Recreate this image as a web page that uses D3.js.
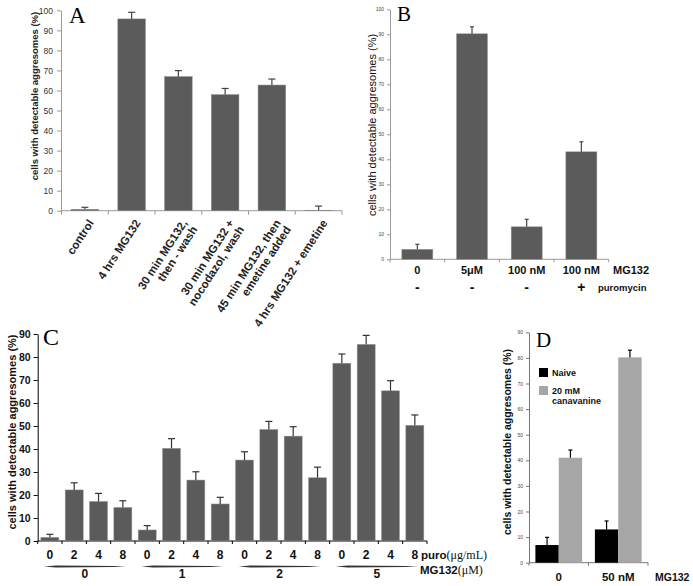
<!DOCTYPE html>
<html><head><meta charset="utf-8">
<script src="https://cdn.jsdelivr.net/npm/d3@7"></script>
<style>
body{margin:0;background:#fff}
svg{display:block}
text{font-family:"Liberation Sans",Arial,sans-serif}
.serif{font-family:"Liberation Serif","Times New Roman",serif}
</style>
</head><body>
<svg id="chart" width="693" height="586"></svg>
<script>
// ---------- Panel A ----------
const aCategories = ["control", "4 hrs MG132", "30 min MG132,\nthen - wash", "30 min MG132 +\nnocodazol, wash", "45 min MG132, then\nemetine added", "4 hrs MG132 + emetine"];
const aValues = [0.7, 95.7, 66.9, 57.9, 62.7, 0.2];
const aErrors = [1.0, 3.3, 3.0, 3.1, 3.0, 2.1];
const aTicks = [0, 10, 20, 30, 40, 50, 60, 70, 80, 90, 100];

// ---------- Panel B ----------
const bMG132 = ["0", "5\u03bcM", "100 nM", "100 nM"];
const bPuromycin = ["-", "-", "-", "+"];
const bValues = [4, 90.2, 13, 43];
const bErrors = [2, 2.8, 3, 4];
const bTicks = [0, 10, 20, 30, 40, 50, 60, 70, 80, 90, 100];

// ---------- Panel C ----------
const cMG132 = ["0", "1", "2", "5"];
const cPuro = ["0", "2", "4", "8"];
const cValues = [1.6, 22.2, 17.2, 14.6, 4.8, 40.3, 26.5, 16.1, 35.2, 48.5, 45.6, 27.5, 77.3, 85.5, 65.3, 50.3];
const cErrors = [1.3, 3.1, 3.5, 2.9, 1.9, 4.2, 3.6, 2.9, 3.6, 3.5, 4.1, 4.6, 4.0, 3.9, 4.4, 4.5];
const cTicks = [0, 10, 20, 30, 40, 50, 60, 70, 80, 90];

// ---------- Panel D ----------
const dCategories = ["0", "50 nM"];
const dSeries = ["Naive", "20 mM\ncanavanine"];
const dNaive = [6.9, 13];
const dCanavanine = [41, 80.2];
const dNaiveErr = [3, 3.3];
const dCanavanineErr = [3, 2.8];
const dTicks = [0, 10, 20, 30, 40, 50, 60, 70, 80, 90];

const svg = d3.select("#chart");
svg.append("rect").attr("width", 693).attr("height", 586).attr("fill", "#fff");
const barColor = "#5b5b5b";

function errorBars(g, xs, tops, errTops, col, cap) {
  xs.forEach((x, i) => {
    g.append("line").attr("x1", x).attr("x2", x).attr("y1", tops[i]).attr("y2", errTops[i])
      .attr("stroke", col).attr("stroke-width", 1.2);
    g.append("line").attr("x1", x - cap).attr("x2", x + cap).attr("y1", errTops[i]).attr("y2", errTops[i])
      .attr("stroke", col).attr("stroke-width", 1.2);
  });
}

// ================= Panel A =================
{
  const g = svg.append("g");
  const y = d3.scaleLinear().domain([0, 100]).range([210.7, 10.3]);
  const x = d3.scaleBand().domain(d3.range(aCategories.length)).range([61.5, 342]).paddingInner(0.41).paddingOuter(0.205);
  const ax = g.append("g").attr("transform", "translate(61,0)")
    .call(d3.axisLeft(y).tickValues(aTicks).tickSize(4).tickSizeOuter(0).tickPadding(4));
  ax.select(".domain").attr("stroke", "#999");
  ax.selectAll(".tick line").attr("stroke", "#999");
  ax.selectAll(".tick text").attr("font-size", 8.5).attr("fill", "#333").attr("font-family", "Liberation Sans, Arial, sans-serif");
  g.append("line").attr("x1", 61).attr("x2", 342).attr("y1", y(0)).attr("y2", y(0)).attr("stroke", "#999");
  const step = x.step();
  d3.range(aCategories.length + 1).forEach(i => {
    const bx = 61.5 + i * step;
    g.append("line").attr("x1", bx).attr("x2", bx).attr("y1", y(0)).attr("y2", y(0) + 4).attr("stroke", "#999");
  });
  g.selectAll("rect.bar").data(aValues).join("rect")
    .attr("x", (d, i) => x(i)).attr("width", x.bandwidth())
    .attr("y", d => y(d)).attr("height", d => y(0) - y(d))
    .attr("fill", barColor).attr("stroke", "#888").attr("stroke-width", 0.5);
  errorBars(g, aValues.map((d, i) => x(i) + x.bandwidth() / 2), aValues.map(d => y(d)),
    aValues.map((d, i) => y(d + aErrors[i])), "#444", 3.5);
  aCategories.forEach((c, i) => {
    const cx = x(i) + x.bandwidth() / 2 + 6;
    const t = g.append("text").attr("transform", `translate(${cx},${y(0) + 10}) rotate(-57)`)
      .attr("text-anchor", "end").attr("font-size", 11.5).attr("font-weight", "bold").attr("fill", "#222");
    c.split("\n").forEach((line, j) => {
      t.append("tspan").attr("x", 0).attr("dy", j === 0 ? "0.35em" : "1.05em").text(line);
    });
  });
  g.append("text").attr("transform", `translate(38,${(10 + 182) / 2}) rotate(-90)`)
    .attr("text-anchor", "middle").attr("font-size", 9.5).attr("font-weight", "bold").attr("fill", "#222")
    .text("cells with detectable aggresomes (%)");
  g.append("text").attr("class", "serif").attr("x", 69).attr("y", 23).attr("font-size", 23).attr("fill", "#000").text("A");
}

// ================= Panel B =================
{
  const g = svg.append("g");
  const y = d3.scaleLinear().domain([0, 100]).range([259.3, 9.3]);
  const x = d3.scaleBand().domain(d3.range(bValues.length)).range([390, 608.7]).paddingInner(0.433).paddingOuter(0.2165);
  const ax = g.append("g").attr("transform", "translate(390,0)")
    .call(d3.axisLeft(y).tickValues(bTicks).tickSize(3).tickSizeOuter(0).tickPadding(3));
  ax.select(".domain").attr("stroke", "#999");
  ax.selectAll(".tick line").attr("stroke", "#999");
  ax.selectAll(".tick text").attr("font-size", 5).attr("fill", "#444").attr("font-family", "Liberation Sans, Arial, sans-serif");
  g.append("line").attr("x1", 390).attr("x2", 608.7).attr("y1", y(0)).attr("y2", y(0)).attr("stroke", "#999");
  d3.range(bValues.length + 1).forEach(i => {
    const bx = 390 + i * x.step();
    g.append("line").attr("x1", bx).attr("x2", bx).attr("y1", y(0)).attr("y2", y(0) + 3).attr("stroke", "#999");
  });
  g.selectAll("rect.bar").data(bValues).join("rect")
    .attr("x", (d, i) => x(i)).attr("width", x.bandwidth())
    .attr("y", d => y(d)).attr("height", d => y(0) - y(d))
    .attr("fill", barColor).attr("stroke", "#999").attr("stroke-width", 0.5);
  errorBars(g, bValues.map((d, i) => x(i) + x.bandwidth() / 2), bValues.map(d => y(d)),
    bValues.map((d, i) => y(d + bErrors[i])), "#444", 2);
  bMG132.forEach((c, i) => {
    g.append("text").attr("x", x(i) + x.bandwidth() / 2).attr("y", 274).attr("text-anchor", "middle")
      .attr("font-size", 11).attr("font-weight", "bold").attr("fill", "#111").text(c);
    g.append("text").attr("x", x(i) + x.bandwidth() / 2).attr("y", 292).attr("text-anchor", "middle")
      .attr("font-size", 14).attr("font-weight", "bold").attr("fill", "#111").text(bPuromycin[i]);
  });
  g.append("text").attr("x", 613).attr("y", 274).attr("font-size", 11).attr("font-weight", "bold").attr("fill", "#111").text("MG132");
  g.append("text").attr("x", 598).attr("y", 291).attr("font-size", 9.5).attr("font-weight", "bold").attr("fill", "#111").text("puromycin");
  g.append("text").attr("transform", `translate(376,125) rotate(-90)`)
    .attr("text-anchor", "middle").attr("font-size", 11).attr("fill", "#111")
    .text("cells with detectable aggresomes (%)");
  g.append("text").attr("class", "serif").attr("x", 397).attr("y", 21).attr("font-size", 21).attr("fill", "#000").text("B");
}

// ================= Panel C =================
{
  const g = svg.append("g");
  const y = d3.scaleLinear().domain([0, 90]).range([541, 334]);
  const x = d3.scaleBand().domain(d3.range(cValues.length)).range([37.7, 427]).paddingInner(0.26).paddingOuter(0.13);
  const ax = g.append("g").attr("transform", "translate(37.7,0)")
    .call(d3.axisLeft(y).tickValues(cTicks).tickSize(4).tickSizeOuter(0).tickPadding(3));
  ax.select(".domain").attr("stroke", "#000");
  ax.selectAll(".tick line").attr("stroke", "#000");
  ax.selectAll(".tick text").attr("font-size", 10.5).attr("font-weight", "bold").attr("fill", "#111").attr("font-family", "Liberation Sans, Arial, sans-serif");
  g.append("line").attr("x1", 37.7).attr("x2", 427).attr("y1", y(0)).attr("y2", y(0)).attr("stroke", "#000");
  d3.range(cValues.length + 1).forEach(i => {
    const bx = 37.7 + i * x.step();
    g.append("line").attr("x1", bx).attr("x2", bx).attr("y1", y(0)).attr("y2", y(0) + 3).attr("stroke", "#000");
  });
  g.selectAll("rect.bar").data(cValues).join("rect")
    .attr("x", (d, i) => x(i)).attr("width", x.bandwidth())
    .attr("y", d => y(d)).attr("height", d => y(0) - y(d))
    .attr("fill", barColor).attr("stroke", "#999").attr("stroke-width", 0.5);
  errorBars(g, cValues.map((d, i) => x(i) + x.bandwidth() / 2), cValues.map(d => y(d)),
    cValues.map((d, i) => y(d + cErrors[i])), "#333", 3.5);
  cValues.forEach((d, i) => {
    g.append("text").attr("x", x(i) + x.bandwidth() / 2).attr("y", 559).attr("text-anchor", "middle")
      .attr("font-size", 12).attr("font-weight", "bold").attr("fill", "#111").text(cPuro[i % cPuro.length]);
  });
  cMG132.forEach((m, k) => {
    const x1 = x(k * 4) + 3, x2 = x(k * 4 + 3) + x.bandwidth() - 6;
    const yy = 566.5;
    g.append("path").attr("d", `M${x1},${yy} L${x1 + 12},${yy - 1.1} L${x2 - 12},${yy - 0.6} L${x2},${yy} L${x2 - 12},${yy + 0.6} L${x1 + 12},${yy + 1.1} Z`)
      .attr("fill", "#333");
    g.append("text").attr("x", (x1 + x2) / 2).attr("y", 578).attr("text-anchor", "middle")
      .attr("font-size", 12).attr("font-weight", "bold").attr("fill", "#111").text(m);
  });
  const p = g.append("text").attr("x", 421).attr("y", 558.5).attr("font-size", 11.5).attr("fill", "#111");
  p.append("tspan").attr("font-weight", "bold").text("puro");
  p.append("tspan").attr("font-family", "Liberation Serif, serif").attr("font-size", 12).text("(\u03bcg/mL)");
  const m = g.append("text").attr("x", 420).attr("y", 573.5).attr("font-size", 11.5).attr("fill", "#111");
  m.append("tspan").attr("font-weight", "bold").text("MG132");
  m.append("tspan").attr("font-family", "Liberation Serif, serif").attr("font-size", 12).text("(\u03bcM)");
  g.append("text").attr("transform", `translate(16,432) rotate(-90)`)
    .attr("text-anchor", "middle").attr("font-size", 11).attr("font-weight", "bold").attr("fill", "#111")
    .text("cells with detectable aggresomes (%)");
  g.append("text").attr("class", "serif").attr("x", 43).attr("y", 345).attr("font-size", 24).attr("fill", "#000").text("C");
}

// ================= Panel D =================
{
  const g = svg.append("g");
  const y = d3.scaleLinear().domain([0, 90]).range([562.7, 332.3]);
  const x0 = d3.scaleBand().domain(d3.range(dCategories.length)).range([529, 648]).paddingInner(0.215).paddingOuter(0.1075);
  const x1 = d3.scaleBand().domain([0, 1]).range([0, x0.bandwidth()]);
  const ax = g.append("g").attr("transform", "translate(529,0)")
    .call(d3.axisLeft(y).tickValues(dTicks).tickSize(3).tickSizeOuter(0).tickPadding(3));
  ax.select(".domain").attr("stroke", "#777");
  ax.selectAll(".tick line").attr("stroke", "#777");
  ax.selectAll(".tick text").attr("font-size", 5).attr("fill", "#444").attr("font-family", "Liberation Sans, Arial, sans-serif");
  g.append("line").attr("x1", 529).attr("x2", 648).attr("y1", y(0)).attr("y2", y(0)).attr("stroke", "#777");
  d3.range(dCategories.length + 1).forEach(i => {
    const bx = 529 + i * x0.step();
    g.append("line").attr("x1", bx).attr("x2", bx).attr("y1", y(0)).attr("y2", y(0) + 3).attr("stroke", "#777");
  });
  const seriesVals = [dNaive, dCanavanine];
  const seriesErr = [dNaiveErr, dCanavanineErr];
  const seriesCol = ["#000", "#a6a6a6"];
  seriesVals.forEach((vals, s) => {
    g.selectAll(`rect.s${s}`).data(vals).join("rect").attr("class", `s${s}`)
      .attr("x", (d, i) => x0(i) + x1(s)).attr("width", x1.bandwidth())
      .attr("y", d => y(d)).attr("height", d => y(0) - y(d)).attr("fill", seriesCol[s]);
    errorBars(g, vals.map((d, i) => x0(i) + x1(s) + x1.bandwidth() / 2), vals.map(d => y(d)),
      vals.map((d, i) => y(d + seriesErr[s][i])), "#000", 2);
  });
  dCategories.forEach((c, i) => {
    g.append("text").attr("x", x0(i) + x0.bandwidth() / 2).attr("y", 581).attr("text-anchor", "middle")
      .attr("font-size", 11.5).attr("font-weight", "bold").attr("fill", "#111").text(c);
  });
  g.append("text").attr("x", 655).attr("y", 581).attr("font-size", 10.5).attr("font-weight", "bold").attr("fill", "#111").text("MG132");
  dSeries.forEach((s, k) => {
    const ly = k === 0 ? 368 : 386;
    g.append("rect").attr("x", 539).attr("y", ly).attr("width", 9).attr("height", 9).attr("fill", seriesCol[k]);
    const t = g.append("text").attr("x", 552).attr("y", ly + 7.5).attr("font-size", 9).attr("font-weight", "bold").attr("fill", "#111");
    s.split("\n").forEach((line, j) => t.append("tspan").attr("x", 552).attr("dy", j === 0 ? 0 : "1.15em").text(line));
  });
  g.append("text").attr("transform", `translate(511,442) rotate(-90)`)
    .attr("text-anchor", "middle").attr("font-size", 10.5).attr("font-weight", "bold").attr("fill", "#111")
    .text("cells with detectable aggresomes (%)");
  g.append("text").attr("class", "serif").attr("x", 536).attr("y", 347).attr("font-size", 21).attr("fill", "#000").text("D");
}
</script>
</body></html>
